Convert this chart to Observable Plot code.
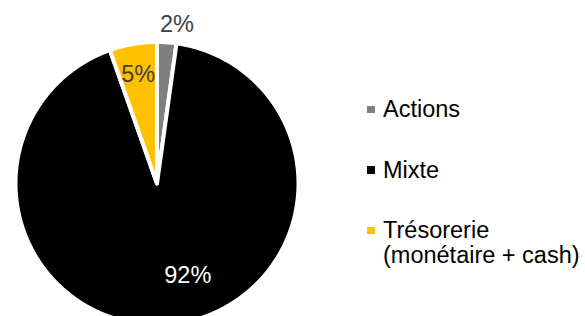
<!DOCTYPE html>
<html>
<head>
<meta charset="utf-8">
<script src="https://cdn.jsdelivr.net/npm/d3@7"></script>
<script src="https://cdn.jsdelivr.net/npm/@observablehq/plot@0.6"></script>
<style>
  html, body { margin: 0; padding: 0; background: #fff; }
  #wrap { position: relative; width: 585px; height: 316px; overflow: hidden; font-family: "Liberation Sans", Arial, sans-serif; }
  #chart { position: absolute; left: 0; top: 0; }
  #legend { position: absolute; left: 367px; top: 97px; display: flex; flex-direction: column; gap: 35.6px; }
  .item { position: relative; padding-left: 16px; font-size: 23.5px; line-height: 25px; color: #000; white-space: pre; }
  .sw { position: absolute; left: 0; top: 8.8px; width: 7.5px; height: 7.5px; }
</style>
</head>
<body>
<div id="wrap"><div id="chart"></div><div id="legend"></div></div>
<script>
// Data
const categories = ["Actions", "Mixte", "Trésorerie"];
const legendLabels = ["Actions", "Mixte", "Trésorerie\n(monétaire + cash)"];
const shares = [2.2, 92.4, 5.4];
const colors = ["#7f7f7f", "#000000", "#ffc000"];

const rows = categories.map((name, i) => ({name, value: shares[i]}));
const arcs = d3.pie().sort(null).value(d => d.value)(rows);

// Slice outlines from pie angles
const outline = [];
arcs.forEach(a => {
  const n = Math.max(2, Math.ceil((a.endAngle - a.startAngle) / (Math.PI / 180)));
  outline.push({name: a.data.name, x: 0, y: 0});
  for (let i = 0; i <= n; i++) {
    const t = a.startAngle + (a.endAngle - a.startAngle) * i / n;
    outline.push({name: a.data.name, x: Math.sin(t), y: Math.cos(t)});
  }
});

// Label anchors at mid-angles
const labelRadius = {"Actions": 1.125, "Mixte": 0.69, "Trésorerie": 0.785};
const labels = arcs.map(a => {
  const m = (a.startAngle + a.endAngle) / 2;
  const r = labelRadius[a.data.name];
  return {name: a.data.name, x: r * Math.sin(m), y: r * Math.cos(m), text: Math.round(a.data.value) + "%"};
});

const cx = 156.5, cy = 183, R = 141.5;
const font = "'Liberation Sans', Arial, sans-serif";

const chart = Plot.plot({
  width: 585,
  height: 316,
  margin: 0,
  x: {domain: [-1, 1], range: [cx - R, cx + R], axis: null},
  y: {domain: [-1, 1], range: [cy + R, cy - R], axis: null},
  color: {domain: categories, range: colors},
  style: {fontFamily: font, background: "white"},
  marks: [
    Plot.line(outline, {x: "x", y: "y", z: "name", fill: "name", stroke: "white", strokeWidth: 4, curve: "linear-closed"}),
    Plot.text(labels.filter(d => d.name === "Actions"), {x: "x", y: "y", text: "text", fill: "#404040", fontSize: 23.5, dx: 9}),
    Plot.text(labels.filter(d => d.name === "Trésorerie"), {x: "x", y: "y", text: "text", fill: "#404040", fontSize: 23.5}),
    Plot.text(labels.filter(d => d.name === "Mixte"), {x: "x", y: "y", text: "text", fill: "white", fontSize: 23.5, dx: 21, dy: -5})
  ]
});
document.getElementById("chart").appendChild(chart);

// Legend
const legend = document.getElementById("legend");
categories.forEach((c, i) => {
  const item = document.createElement("div");
  item.className = "item";
  const sw = document.createElement("span");
  sw.className = "sw";
  sw.style.background = colors[i];
  item.appendChild(sw);
  item.appendChild(document.createTextNode(legendLabels[i]));
  legend.appendChild(item);
});
</script>
</body>
</html>
